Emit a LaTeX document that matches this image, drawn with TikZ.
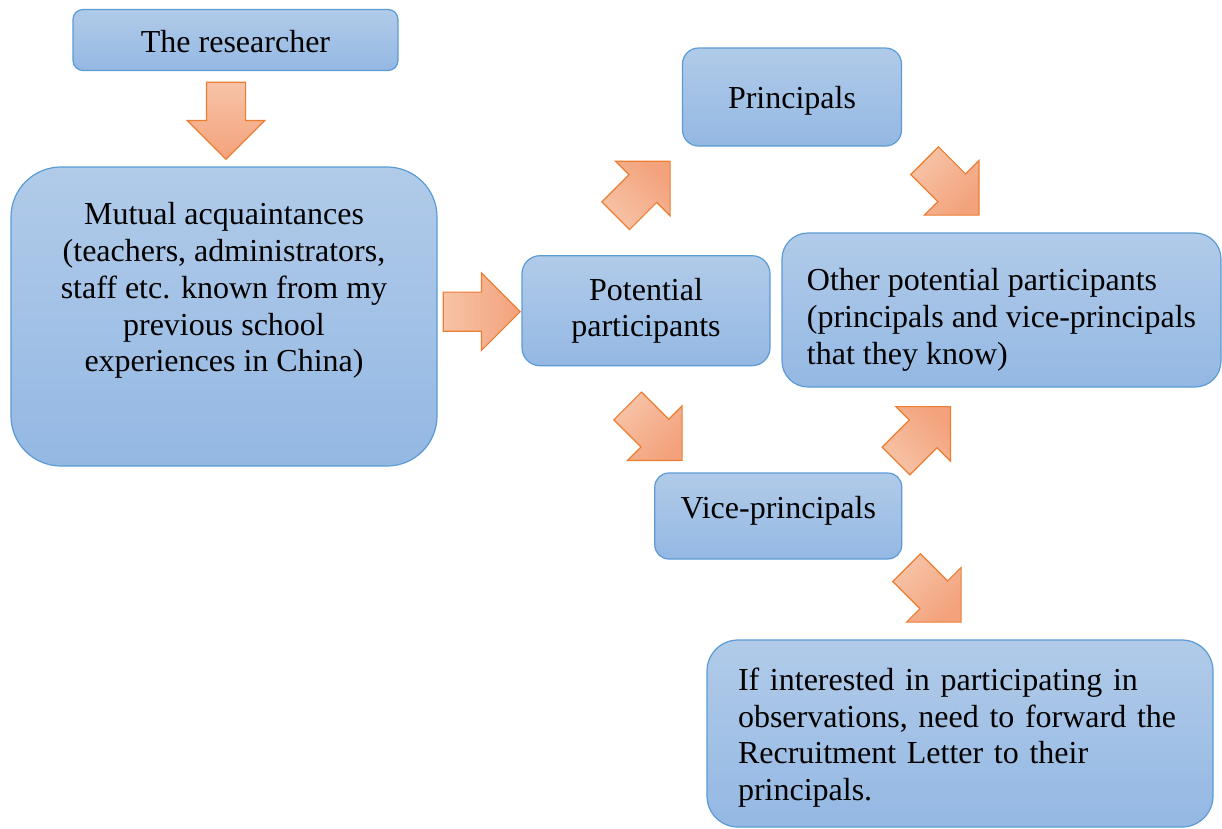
\documentclass[tikz,border=0pt]{standalone}
\usepackage{fontspec}
\setmainfont{Liberation Serif}
\usetikzlibrary{shapes.arrows}
\definecolor{boxtop}{HTML}{B1CBE9}
\definecolor{boxbot}{HTML}{94B8E3}
\definecolor{boxline}{HTML}{5B9BD5}
\definecolor{arrlight}{HTML}{F7C3A7}
\definecolor{arrdark}{HTML}{F3A27B}
\definecolor{arrline}{HTML}{ED7D31}
\newcommand\kastenstrut{\rule[-6pt]{0pt}{36.8pt}}

\begin{document}
\begin{tikzpicture}[x=1pt,y=-1pt,
  kasten/.style={draw=boxline,line width=1.2pt,top color=boxtop,bottom color=boxbot,align=center,
    font=\fontsize{32}{36.8}\selectfont,execute at begin node=\kastenstrut,execute at end node=\kastenstrut},
  pfeil/.style={single arrow,draw=arrline,line width=1.2pt,top color=arrdark,bottom color=arrlight,
    shading angle=#1-90,rotate=#1,
    minimum height=77pt,minimum width=0pt,inner xsep=0pt,inner ysep=19pt,
    single arrow head extend=19pt,single arrow tip angle=90,anchor=tip}]
  \useasboundingbox (0,0) rectangle (1222,828);
  \node[kasten,rounded corners=10pt,minimum width=325pt,minimum height=61pt] (res) at (235.5,40) {The researcher};
  \node[kasten,rounded corners=50pt,minimum width=426pt,minimum height=299pt] (mut) at (224,316.5)
    {Mutual acquaintances\\(teachers, administrators,\\staff etc. known from my\\previous school\\experiences in China)\\[16pt]};
  \node[kasten,rounded corners=18pt,minimum width=248pt,minimum height=110pt] (pot) at (646,310.7) {Potential\\participants};
  \node[kasten,rounded corners=16pt,minimum width=219pt,minimum height=98pt] (pri) at (792,97) {Principals};
  \node[kasten,rounded corners=26pt,minimum width=439pt,minimum height=154pt,align=left] (oth) at (1001.5,310)
    {\rule{0pt}{42pt}Other potential participants\\(principals and vice-principals\\that they know)};
  \node[kasten,rounded corners=14pt,minimum width=247pt,minimum height=86pt] (vic) at (778.3,516) {Vice-principals\\[-25pt]};
  \node[kasten,rounded corners=31pt,minimum width=506pt,minimum height=187pt,align=left,text width=444pt,inner xsep=31pt] (ifb) at (960,733.5)
    {If interested in participating in\\observations, need to forward the\\Recruitment Letter to their\\principals.};
  \node[pfeil=-90] (res2mut) at (226,160) {};
  \node[pfeil=0] (mut2pot) at (521,311.7) {};
  \node[pfeil=45] (pot2pri) at (670.7,160.7) {};
  \node[pfeil=-45] (pri2oth) at (979.6,215.7) {};
  \node[pfeil=-45] (pot2vic) at (682.7,461) {};
  \node[pfeil=45] (vic2oth) at (951,406) {};
  \node[pfeil=-45] (vic2ifb) at (961.7,622.7) {};
\end{tikzpicture}
\end{document}
